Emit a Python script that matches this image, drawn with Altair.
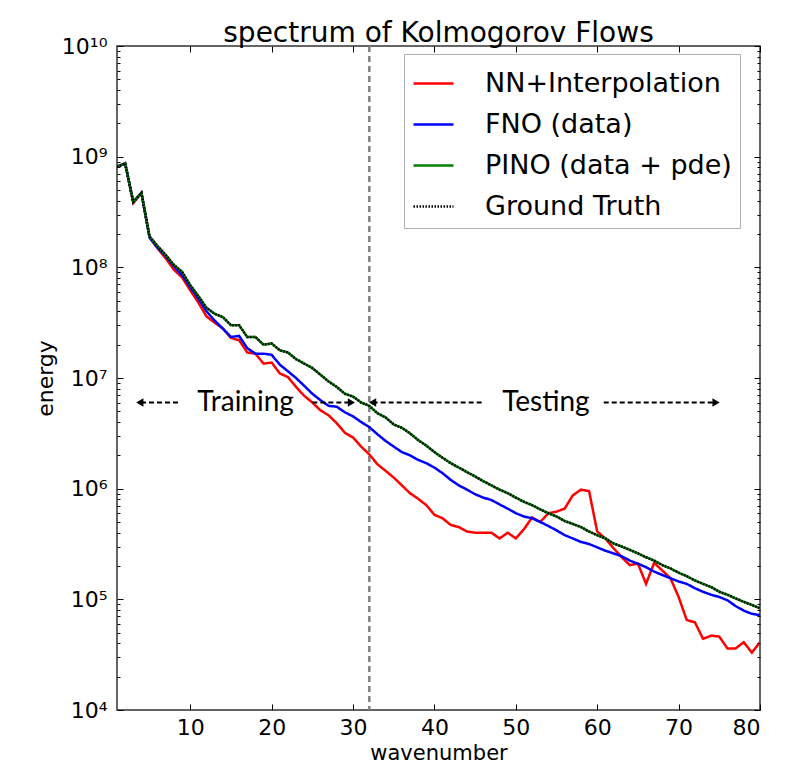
import altair as alt
import pandas as pd

# ---------------- data ----------------
wavenumber = list(range(1, 81))

nn_interp = [8.1e8, 8.7e8, 3.8e8, 4.7e8, 1.86e8, 1.48e8, 1.2e8, 9.5e7, 8.1e7, 6.2e7,
             4.8e7, 3.6e7, 3.16e7, 2.8e7, 2.3e7, 2.2e7, 1.7e7, 1.66e7, 1.35e7, 1.38e7,
             1.1e7, 1.02e7, 8.3e6, 6.9e6, 6.0e6, 5.1e6, 4.6e6, 3.9e6, 3.2e6, 2.9e6,
             2.4e6, 2.04e6, 1.66e6, 1.45e6, 1.26e6, 1.07e6, 9.1e5, 8.1e5, 7.1e5, 5.8e5,
             5.4e5, 4.7e5, 4.5e5, 4.1e5, 4.0e5, 4.0e5, 4.0e5, 3.55e5, 4.0e5, 3.55e5,
             4.3e5, 5.5e5, 5.0e5, 6.0e5, 6.2e5, 6.6e5, 8.7e5, 9.8e5, 9.5e5, 4.1e5,
             3.55e5, 2.9e5, 2.4e5, 2.04e5, 2.1e5, 1.38e5, 2.14e5, 1.82e5, 1.55e5, 1.05e5,
             6.5e4, 6.2e4, 4.4e4, 4.7e4, 4.6e4, 3.6e4, 3.6e4, 4.1e4, 3.3e4, 4.1e4]

fno = [8.1e8, 8.7e8, 3.9e8, 4.7e8, 1.86e8, 1.5e8, 1.26e8, 1.02e8, 8.5e7, 6.6e7,
       5.2e7, 4.0e7, 3.3e7, 2.8e7, 2.35e7, 2.4e7, 1.86e7, 1.66e7, 1.66e7, 1.62e7,
       1.32e7, 1.15e7, 1.0e7, 8.5e6, 7.2e6, 6.3e6, 5.6e6, 5.5e6, 4.9e6, 4.5e6,
       4.0e6, 3.6e6, 3.1e6, 2.7e6, 2.4e6, 2.14e6, 2.0e6, 1.82e6, 1.7e6, 1.55e6,
       1.38e6, 1.2e6, 1.07e6, 9.8e5, 8.9e5, 8.3e5, 7.9e5, 7.2e5, 6.6e5, 6.0e5,
       5.6e5, 5.4e5, 5.0e5, 4.6e5, 4.2e5, 3.8e5, 3.55e5, 3.3e5, 3.16e5, 2.95e5,
       2.75e5, 2.6e5, 2.45e5, 2.24e5, 2.1e5, 1.95e5, 1.78e5, 1.66e5, 1.55e5, 1.45e5,
       1.38e5, 1.26e5, 1.17e5, 1.1e5, 1.05e5, 9.8e4, 8.7e4, 7.9e4, 7.4e4, 7.2e4]

pino = [8.1e8, 8.7e8, 3.9e8, 4.7e8, 1.9e8, 1.55e8, 1.29e8, 1.05e8, 9.1e7, 6.9e7,
        5.5e7, 4.3e7, 3.8e7, 3.55e7, 3.0e7, 3.0e7, 2.35e7, 2.35e7, 2.0e7, 2.05e7,
        1.78e7, 1.7e7, 1.48e7, 1.35e7, 1.23e7, 1.07e7, 9.3e6, 8.3e6, 7.2e6, 6.8e6,
        6.0e6, 5.6e6, 4.8e6, 4.4e6, 3.8e6, 3.55e6, 3.16e6, 2.75e6, 2.45e6, 2.14e6,
        1.9e6, 1.7e6, 1.55e6, 1.41e6, 1.29e6, 1.17e6, 1.07e6, 9.8e5, 9.1e5, 8.3e5,
        7.6e5, 7.1e5, 6.5e5, 6.0e5, 5.6e5, 5.1e5, 4.8e5, 4.5e5, 4.1e5, 3.8e5,
        3.55e5, 3.2e5, 3.0e5, 2.8e5, 2.6e5, 2.4e5, 2.24e5, 2.04e5, 1.9e5, 1.74e5,
        1.62e5, 1.48e5, 1.38e5, 1.29e5, 1.17e5, 1.1e5, 1.02e5, 9.5e4, 8.9e4, 8.3e4]

ground_truth = list(pino)

series_names = ["NN+Interpolation", "FNO (data)", "PINO (data + pde)", "Ground Truth"]
series_colors = ["#ff0000", "#0000ff", "#008000", "#000000"]

split_wavenumber = [32]

# annotation texts and arrows (data units)
anno_text = ["Training", "Testing"]
anno_text_x = [16.8, 53.7]
anno_y = 6.0e6
arrow_from = [8.5, 25.0, 45.8, 60.8]
arrow_to = [3.8, 29.8, 32.4, 74.6]

x_ticks = [10, 20, 30, 40, 50, 60, 70, 80]
y_major = [10 ** n for n in range(4, 11)]
y_minor = [m * 10 ** n for n in range(4, 10) for m in range(1, 10)] + [10 ** 10]

# ---------------- build tables ----------------
rows = []
for name, vals in zip(series_names, [nn_interp, fno, pino, ground_truth]):
    for k, v in zip(wavenumber, vals):
        rows.append({"wavenumber": k, "energy": v, "series": name})
df = pd.DataFrame(rows)

W, H = 643, 664
FONT = "DejaVu Sans"

xscale = alt.Scale(domain=[1, 80], nice=False, zero=False)
yscale = alt.Scale(type="log", domain=[1e4, 1e10], nice=False)

sup = {4: "⁴", 5: "⁵", 6: "⁶", 7: "⁷", 8: "⁸", 9: "⁹", 10: "¹⁰"}
label_expr = " : ".join(
    [f"datum.value == {10 ** n} ? '10{sup[n]}'" for n in range(4, 11)]
) + " : ''"

lines = alt.Chart(df).mark_line(clip=True).encode(
    x=alt.X("wavenumber:Q", scale=xscale,
            axis=alt.Axis(orient="bottom", values=x_ticks, ticks=False, domain=False, grid=False,
                          labelFont=FONT, labelFontSize=22, labelPadding=7, labelColor="black",
                          title="wavenumber", titleFont=FONT, titleFontSize=21,
                          titleFontWeight="normal", titleColor="black",
                          titleY=43, titleBaseline="middle")),
    y=alt.Y("energy:Q", scale=yscale,
            axis=alt.Axis(orient="left", values=y_major, labelExpr=label_expr, ticks=False,
                          domain=False, grid=False, labelFont=FONT, labelFontSize=22,
                          labelPadding=10, labelColor="black",
                          title="energy", titleFont=FONT, titleFontSize=22,
                          titleFontWeight="normal", titleColor="black",
                          titleX=-72, titleBaseline="middle")),
    color=alt.Color("series:N",
                    scale=alt.Scale(domain=series_names, range=series_colors),
                    legend=alt.Legend(title=None, orient="none", legendX=287, legendY=8,
                                      symbolType="stroke", symbolSize=1600,
                                      symbolStrokeWidth=2.5, labelFont=FONT,
                                      labelFontSize=27, labelOffset=30, labelLimit=500,
                                      labelColor="black", rowPadding=6, padding=8,
                                      strokeColor="#b0b0b0", fillColor="white")),
    strokeDash=alt.StrokeDash("series:N",
                              scale=alt.Scale(domain=series_names,
                                              range=[[1, 0], [1, 0], [1, 0], [1.5, 1.5]])),
    strokeWidth=alt.StrokeWidth("series:N",
                                scale=alt.Scale(domain=series_names, range=[2.5, 2.5, 2.5, 1.5]),
                                legend=None),
    order=alt.Order("wavenumber:Q"),
)

split = alt.Chart(pd.DataFrame({"split": split_wavenumber})).mark_rule(
    color="#808080", strokeDash=[6, 4], strokeWidth=2.5
).encode(x=alt.X("split:Q", scale=xscale, axis=None))

text_df = pd.DataFrame({"label": anno_text, "x": anno_text_x, "y": [anno_y] * len(anno_text)})
texts = alt.Chart(text_df).mark_text(font="Lato", fontSize=28, color="black",
                                     baseline="middle", align="center").encode(
    x=alt.X("x:Q", scale=xscale, axis=None),
    y=alt.Y("y:Q", scale=yscale, axis=None),
    text="label:N",
)

arrow_df = pd.DataFrame({"x1": arrow_from, "x2": arrow_to, "y": [anno_y] * len(arrow_from),
                         "shape": ["triangle-left" if b < a else "triangle-right"
                                   for a, b in zip(arrow_from, arrow_to)]})
arrow_lines = alt.Chart(arrow_df).mark_rule(color="black", strokeDash=[5, 3], strokeWidth=2).encode(
    x=alt.X("x1:Q", scale=xscale, axis=None),
    x2="x2:Q",
    y=alt.Y("y:Q", scale=yscale, axis=None),
)
arrow_heads = alt.Chart(arrow_df).mark_point(filled=True, color="black", opacity=1, size=70).encode(
    x=alt.X("x2:Q", scale=xscale, axis=None),
    y=alt.Y("y:Q", scale=yscale, axis=None),
    shape=alt.Shape("shape:N", scale=None, legend=None),
)

major_test = "abs(log(datum.value)/LN10 - round(log(datum.value)/LN10)) < 0.001"
y_tick_size = {"condition": {"test": major_test, "value": 6}, "value": 3}


def tick_layer(x_orient, y_orient):
    return alt.Chart(df).mark_point(opacity=0, size=1).encode(
        x=alt.X("wavenumber:Q", scale=xscale,
                axis=alt.Axis(orient=x_orient, offset=-H, values=x_ticks, labels=False,
                              domain=False, grid=False, ticks=True, tickSize=6,
                              tickColor="black", tickWidth=1, title=None, zindex=1)),
        y=alt.Y("energy:Q", scale=yscale,
                axis=alt.Axis(orient=y_orient, offset=-W, values=y_minor, labels=False,
                              domain=False, grid=False, ticks=True, tickSize=y_tick_size,
                              tickColor="black", tickWidth=1, title=None, zindex=1)),
    )


chart = alt.layer(
    split, lines, texts, arrow_lines, arrow_heads,
    tick_layer("top", "right"), tick_layer("bottom", "left"),
).resolve_axis(x="independent", y="independent").properties(
    width=W, height=H,
    autosize=alt.AutoSizeParams(type="none"),
    padding={"left": 109, "top": 38, "right": 19, "bottom": 53},
    title=alt.TitleParams("spectrum of Kolmogorov Flows", font=FONT, fontSize=28,
                          fontWeight="normal", color="black", offset=-13, anchor="middle"),
    background="white",
).configure_view(stroke="#333333", strokeWidth=1.5)

chart.save("out.html", embed_options={"renderer": "svg", "actions": False})
